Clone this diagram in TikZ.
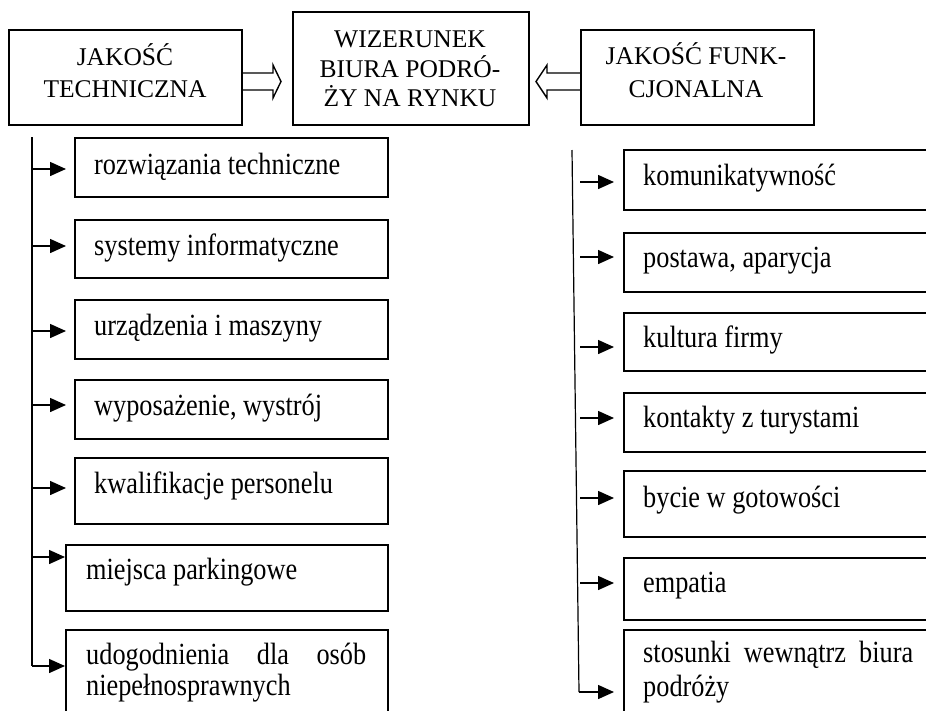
\documentclass[tikz,border=0pt]{standalone}
\usepackage{fontspec}
\setmainfont{Liberation Serif}
\usetikzlibrary{arrows.meta}
\newcommand{\hdrfont}{\fontsize{25.5}{32}\selectfont}
\newcommand{\itemfont}{\fontsize{26.3}{31}\selectfont}
\newcommand{\stretchtxt}[1]{\scalebox{1}[1.17]{#1}}
\begin{document}
\begin{tikzpicture}[x=1pt,y=-1pt,
  box/.style={draw,line width=1.7pt,inner sep=0pt,anchor=north west},
  hl/.style={anchor=base,inner sep=0pt,font=\hdrfont},
  tl/.style={anchor=base west,inner sep=0pt,font=\itemfont},
  arr/.style={line width=1.5pt,-{Triangle[length=16pt,width=14pt]}},
  trunk/.style={line width=1.5pt},
  hollow/.style={line width=1.4pt,line join=miter}]
\clip (0,0) rectangle (926,710);
% header boxes
\node[box,minimum width=233pt,minimum height=95pt] (jt) at (8,29) {};
\node[box,minimum width=236pt,minimum height=113pt] (wiz) at (292,11) {};
\node[box,minimum width=233pt,minimum height=95pt] (jf) at (580,29) {};
% header texts
\node[hl] (jt1) at (125,65) {JAKOŚĆ};
\node[hl] (jt2) at (125,97) {TECHNICZNA};
\node[hl] (w1) at (410,47) {WIZERUNEK};
\node[hl] (w2) at (410,77) {BIURA PODRÓ-};
\node[hl] (w3) at (410,106) {ŻY NA RYNKU};
\node[hl] (jf1) at (696,64) {JAKOŚĆ FUNK-};
\node[hl] (jf2) at (696,97) {CJONALNA};
% hollow arrows
\draw[hollow] (jt.east |- 0,73) -- (273,73) -- (273,65) -- (281,81.5) -- (273,98) -- (273,90) -- (jt.east |- 0,90);
\draw[hollow] (jf.west |- 0,73) -- (547,73) -- (547,65) -- (536,81.5) -- (547,98) -- (547,90) -- (jf.west |- 0,90);
% left item boxes
\node[box,minimum width=313pt,minimum height=59pt] (l1) at (74,137) {};
\node[box,minimum width=313pt,minimum height=58pt] (l2) at (74,219) {};
\node[box,minimum width=313pt,minimum height=59pt] (l3) at (74,299) {};
\node[box,minimum width=313pt,minimum height=59pt] (l4) at (74,379) {};
\node[box,minimum width=313pt,minimum height=66pt] (l5) at (74,457) {};
\node[box,minimum width=322pt,minimum height=66pt] (l6) at (65,544) {};
\node[box,minimum width=322pt,minimum height=120pt] (l7) at (65,629) {};
\node[tl] (t1) at (94,174) {\stretchtxt{rozwiązania techniczne}};
\node[tl] (t2) at (94,255) {\stretchtxt{systemy informatyczne}};
\node[tl] (t3) at (94,335) {\stretchtxt{urządzenia i maszyny}};
\node[tl] (t4) at (94,415) {\stretchtxt{wyposażenie, wystrój}};
\node[tl] (t5) at (94,493) {\stretchtxt{kwalifikacje personelu}};
\node[tl] (t6) at (86,579) {\stretchtxt{miejsca parkingowe}};
\node[tl] (t7a) at (86,664) {\stretchtxt{\hbox to 280pt{udogodnienia\hfill dla\hfill osób}}};
\node[tl] (t7b) at (86,695) {\stretchtxt{niepełnosprawnych}};
% left trunk and arrows
\coordinate (ltop) at (32,137);
\coordinate (lbot) at (32,666);
\draw[trunk] (ltop) -- (lbot);
\coordinate (lb1) at (32,169);
\coordinate (lb2) at (32,246);
\coordinate (lb3) at (32,331);
\coordinate (lb4) at (32,405);
\coordinate (lb5) at (32,488);
\coordinate (lb6) at (32,557);
\draw[arr,shorten >=8pt] (lb1) -- (lb1 -| l1.west);
\draw[arr,shorten >=8pt] (lb2) -- (lb2 -| l2.west);
\draw[arr,shorten >=8pt] (lb3) -- (lb3 -| l3.west);
\draw[arr,shorten >=8pt] (lb4) -- (lb4 -| l4.west);
\draw[arr,shorten >=8pt] (lb5) -- (lb5 -| l5.west);
\draw[arr] (lb6) -- (lb6 -| l6.west);
\draw[arr] (lbot) -- (lbot -| l7.west);
% right item boxes
\node[box,minimum width=400pt,minimum height=60pt] (r1) at (623,149) {};
\node[box,minimum width=400pt,minimum height=59pt] (r2) at (623,232) {};
\node[box,minimum width=400pt,minimum height=58pt] (r3) at (623,312) {};
\node[box,minimum width=400pt,minimum height=59pt] (r4) at (623,392) {};
\node[box,minimum width=400pt,minimum height=66pt] (r5) at (623,470) {};
\node[box,minimum width=400pt,minimum height=62pt] (r6) at (623,557) {};
\node[box,minimum width=400pt,minimum height=120pt] (r7) at (623,629) {};
\node[tl] (s1) at (643,185) {\stretchtxt{komunikatywność}};
\node[tl] (s2) at (643,267) {\stretchtxt{postawa, aparycja}};
\node[tl] (s3) at (643,347) {\stretchtxt{kultura firmy}};
\node[tl] (s4) at (643,427) {\stretchtxt{kontakty z turystami}};
\node[tl] (s5) at (643,507) {\stretchtxt{bycie w gotowości}};
\node[tl] (s6) at (643,592) {\stretchtxt{empatia}};
\node[tl] (s7a) at (643,662) {\stretchtxt{\hbox to 270pt{stosunki\hfill wewnątrz\hfill biura}}};
\node[tl] (s7b) at (643,696) {\stretchtxt{podróży}};
% right trunk and arrows
\coordinate (rtop) at (572,150);
\coordinate (rbot) at (579,692);
\draw[line width=1.2pt] (rtop) -- (rbot);
\coordinate (ra1) at (580,182);
\coordinate (ra2) at (580,257);
\coordinate (ra3) at (580,347);
\coordinate (ra4) at (580,418);
\coordinate (ra5) at (580,498);
\coordinate (ra6) at (580,583);
\draw[arr,shorten >=9pt] (ra1) -- (ra1 -| r1.west);
\draw[arr,shorten >=9pt] (ra2) -- (ra2 -| r2.west);
\draw[arr,shorten >=9pt] (ra3) -- (ra3 -| r3.west);
\draw[arr,shorten >=9pt] (ra4) -- (ra4 -| r4.west);
\draw[arr,shorten >=9pt] (ra5) -- (ra5 -| r5.west);
\draw[arr,shorten >=9pt] (ra6) -- (ra6 -| r6.west);
\draw[arr,shorten >=9pt] (rbot) -- (rbot -| r7.west);
\end{tikzpicture}
\end{document}
